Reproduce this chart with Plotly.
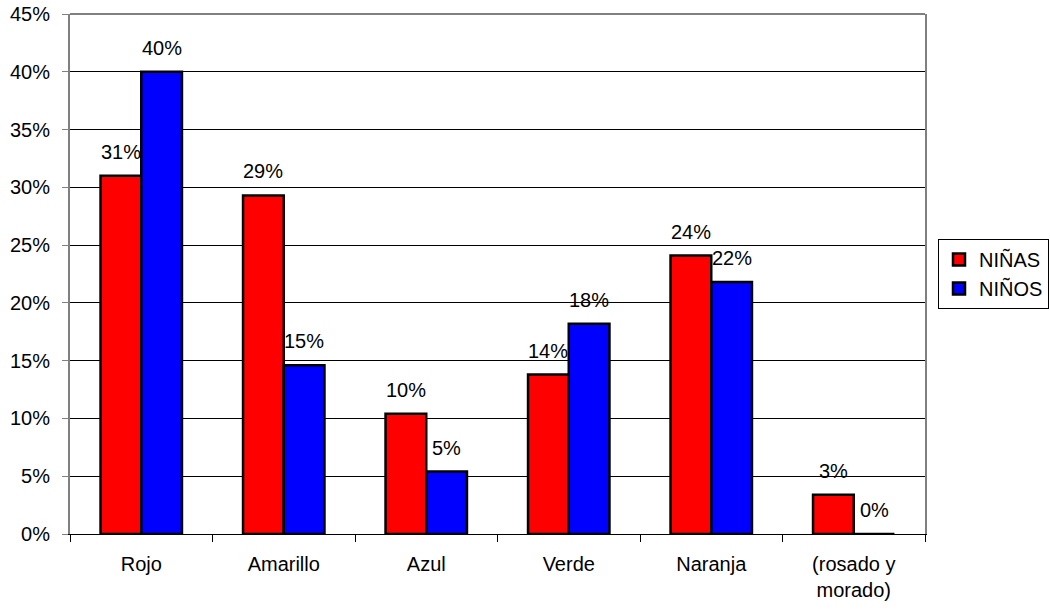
import plotly.graph_objects as go

categories = ["Rojo", "Amarillo", "Azul", "Verde", "Naranja", "(rosado y<br>morado)"]
ninas = [0.310, 0.293, 0.104, 0.138, 0.241, 0.034]
ninos = [0.400, 0.146, 0.054, 0.182, 0.218, 0.0]
series_names = ["NIÑAS", "NIÑOS"]
colors = ["#FF0000", "#0000FF"]

FONT = "Liberation Sans, Arial, sans-serif"
FS = 20
BARGAP = 0.4286

fig = go.Figure()
for name, vals, col in zip(series_names, [ninas, ninos], colors):
    fig.add_trace(go.Bar(
        x=categories, y=vals, name=name,
        marker=dict(color=col, line=dict(color="black", width=2.5)),
    ))

W, H = 1050, 611
ML, MR, MT, MB = 70, 125, 14, 77
plot_w = W - ML - MR
cat_px = plot_w / len(categories)
bar_px = cat_px * (1 - BARGAP) / 2
annotations = []
for i, vals in enumerate([ninas, ninos]):
    shift = (i - 0.5) * bar_px
    for c, v in zip(categories, vals):
        annotations.append(dict(
            x=c, y=v, xref="x", yref="y", text=f"{round(v*100):.0f}%",
            showarrow=False, xanchor="center", yanchor="bottom",
            xshift=shift, yshift=11,
            font=dict(family=FONT, size=FS, color="black"),
        ))

fig.update_layout(
    barmode="group",
    bargap=BARGAP,
    bargroupgap=0,
    width=W, height=H,
    margin=dict(l=ML, r=MR, t=MT, b=MB, autoexpand=False),
    plot_bgcolor="white", paper_bgcolor="white",
    font=dict(family=FONT, size=FS, color="black"),
    legend=dict(
        x=(W - 1 - ML) / plot_w, y=0.5, xanchor="right", yanchor="middle",
        bordercolor="black", borderwidth=1, bgcolor="white",
        font=dict(family=FONT, size=FS, color="black"),
        itemwidth=30, tracegroupgap=2,
    ),
    annotations=annotations,
    shapes=[dict(type="line", xref="paper", yref="paper", x0=0, x1=1, y0=1, y1=1,
                 line=dict(color="#808080", width=2))],
)
fig.update_xaxes(
    automargin=False,
    showline=True, linecolor="black", linewidth=1,
    ticks="outside", tickson="boundaries", ticklen=7, tickcolor="black",
    ticklabelstandoff=12,
    tickfont=dict(family=FONT, size=FS, color="black"),
    showgrid=False,
)
fig.update_yaxes(
    automargin=False,
    range=[0, 0.45], dtick=0.05, tickformat=".0%",
    showline=True, linecolor="#808080", linewidth=2, mirror=True,
    ticks="outside", ticklen=6, tickcolor="#808080",
    ticklabelstandoff=8, ticklabeloverflow="allow",
    showgrid=True, gridcolor="black", gridwidth=1,
    zeroline=False,
    tickfont=dict(family=FONT, size=FS, color="black"),
)

fig.write_html(
    "out.html",
    config={"displayModeBar": False},
    post_script="document.body.style.margin='0';document.body.style.overflow='hidden';",
)
